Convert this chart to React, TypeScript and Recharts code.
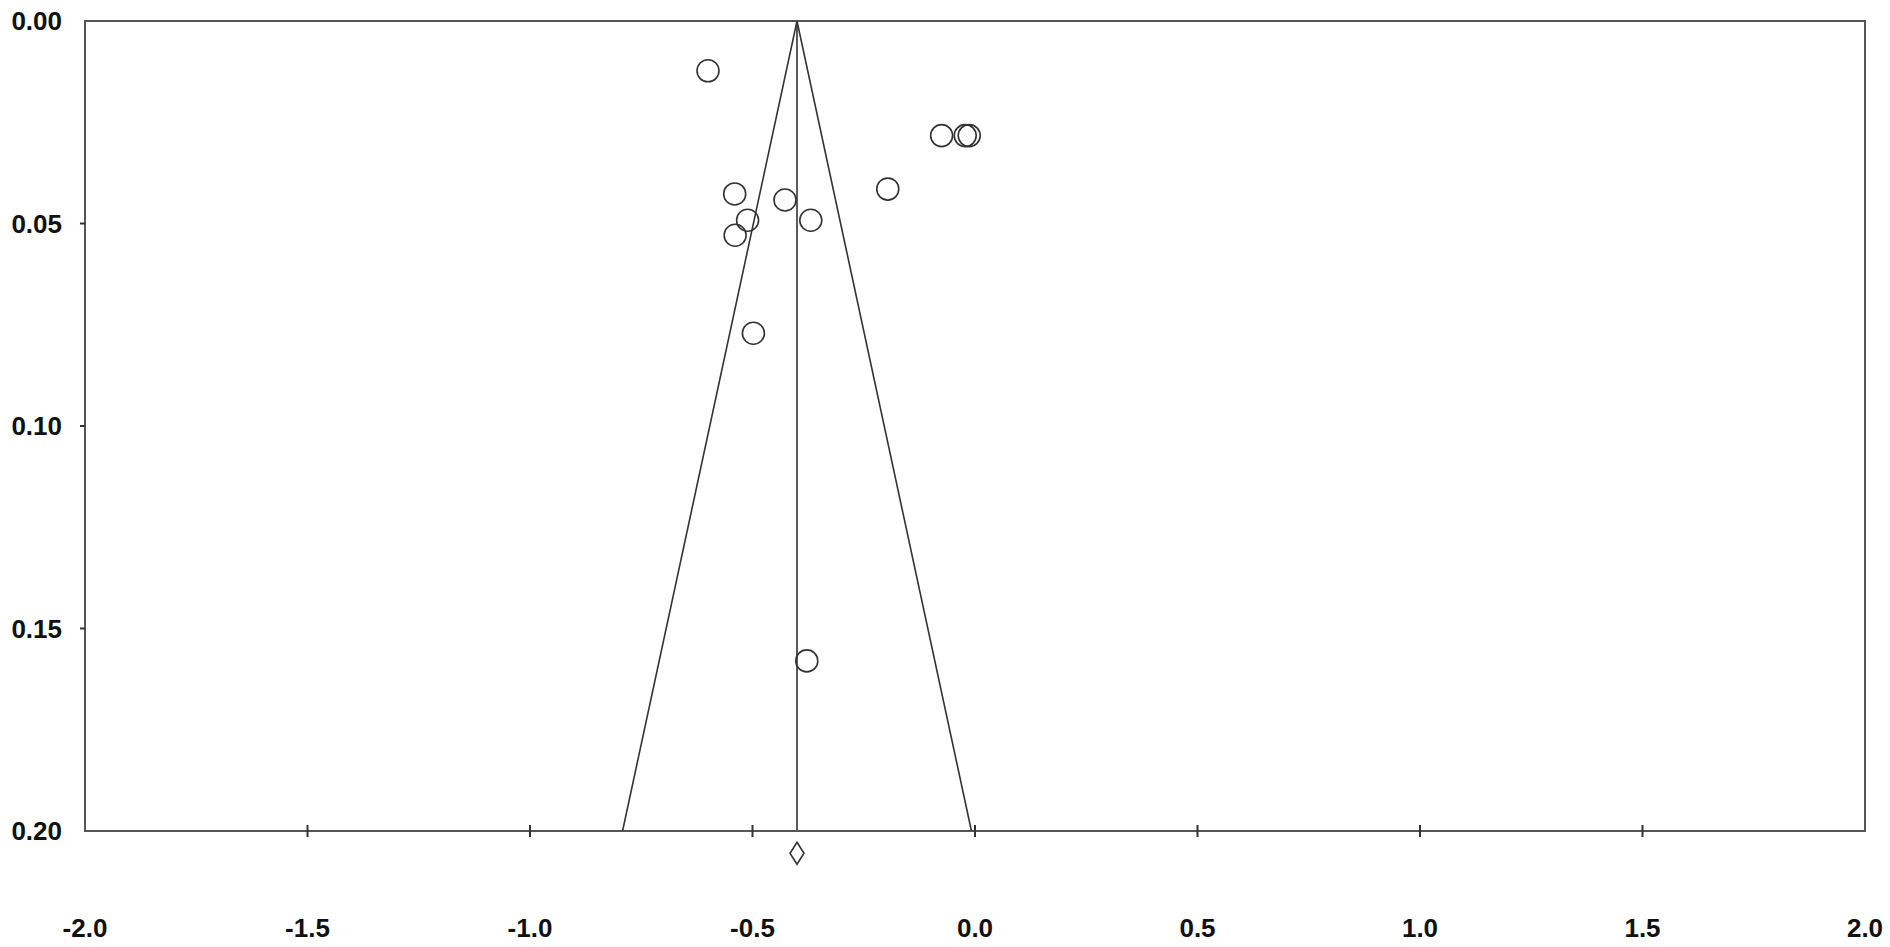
import { ComposedChart, Scatter, XAxis, YAxis, ReferenceLine, ReferenceArea, ReferenceDot } from 'recharts';

// study effect sizes and their standard errors
const effect = [-0.6, -0.075, -0.022, -0.013, -0.54, -0.427, -0.196, -0.511, -0.369, -0.539, -0.498, -0.378];
const stdErr = [0.0123, 0.0283, 0.0283, 0.0283, 0.0427, 0.0442, 0.0415, 0.0492, 0.0492, 0.0529, 0.0771, 0.158];

// pooled estimate and the funnel outline (pseudo 95% limits)
const pooled = -0.4;
const pooledMarkerY = 0.2055;
const funnelX = [-0.792, -0.4, -0.008];
const funnelY = [0.2, 0, 0.2];

const xTicks = [-2, -1.5, -1, -0.5, 0, 0.5, 1, 1.5, 2];
const yTicks = [0, 0.05, 0.1, 0.15, 0.2];

const studies = effect.map((x, i) => ({ x, y: stdErr[i] }));
const funnel = funnelX.map((x, i) => ({ x, y: funnelY[i] }));

const font = { fontFamily: '"Liberation Sans", Arial, sans-serif', fontWeight: 700, fontSize: 26, fill: '#111' };
const axisColor = '#555';

const XTick = (props: any) => {
  const { x, y, payload } = props;
  const v = payload.value;
  const edge = v === -2 || v === 2;
  return (
    <g>
      {!edge && <line x1={x} x2={x} y1={y - 6} y2={y + 6} stroke="#333" strokeWidth={2} />}
      <text x={x} y={y + 97} textAnchor="middle" dominantBaseline="central" style={font}>
        {v.toFixed(1)}
      </text>
    </g>
  );
};

const YTick = (props: any) => {
  const { x, y, payload } = props;
  const v = payload.value;
  const edge = v === 0 || v === 0.2;
  return (
    <g>
      {!edge && <line x1={x - 5} x2={x} y1={y} y2={y} stroke="#333" strokeWidth={2} />}
      <text x={x - 23} y={y} textAnchor="end" dominantBaseline="central" style={font}>
        {v.toFixed(2)}
      </text>
    </g>
  );
};

const Octagon = (props: any) => (
  <circle cx={props.cx} cy={props.cy} r={11} fill="none" stroke="#333" strokeWidth={1.6} />
);

const Diamond = (props: any) => {
  const { cx, cy } = props;
  return (
    <path
      d={`M${cx},${cy - 11} L${cx + 7},${cy} L${cx},${cy + 11} L${cx - 7},${cy} Z`}
      fill="none"
      stroke="#333"
      strokeWidth={1.6}
    />
  );
};

export default function App() {
  return (
    <div style={{ position: 'absolute', left: 0, top: 0, width: 1890, height: 947, background: '#fff' }}>
      <ComposedChart width={1890} height={947} margin={{ top: 21, right: 25, left: 0, bottom: 0 }}>
        <XAxis
          type="number"
          dataKey="x"
          domain={[-2, 2]}
          ticks={xTicks}
          allowDataOverflow
          height={116}
          tickSize={0}
          tickMargin={0}
          tickLine={false}
          tick={<XTick />}
          axisLine={{ stroke: axisColor, strokeWidth: 2 }}
          interval={0}
        />
        <YAxis
          type="number"
          dataKey="y"
          domain={[0, 0.2]}
          reversed
          ticks={yTicks}
          allowDataOverflow
          width={85}
          tickSize={0}
          tickMargin={0}
          tickLine={false}
          tick={<YTick />}
          axisLine={{ stroke: axisColor, strokeWidth: 2 }}
          interval={0}
        />
        <ReferenceArea x1={-2} x2={2} y1={0} y2={0.2} fill="none" stroke={axisColor} strokeWidth={2} />
        <ReferenceLine x={pooled} stroke="#333" strokeWidth={1.6} />
        <Scatter
          data={funnel}
          line={{ stroke: '#333', strokeWidth: 1.6 }}
          lineType="joint"
          shape={() => <g />}
          isAnimationActive={false}
        />
        <Scatter data={studies} shape={<Octagon />} isAnimationActive={false} />
        <ReferenceDot x={pooled} y={pooledMarkerY} ifOverflow="visible" shape={<Diamond />} />
      </ComposedChart>
    </div>
  );
}
